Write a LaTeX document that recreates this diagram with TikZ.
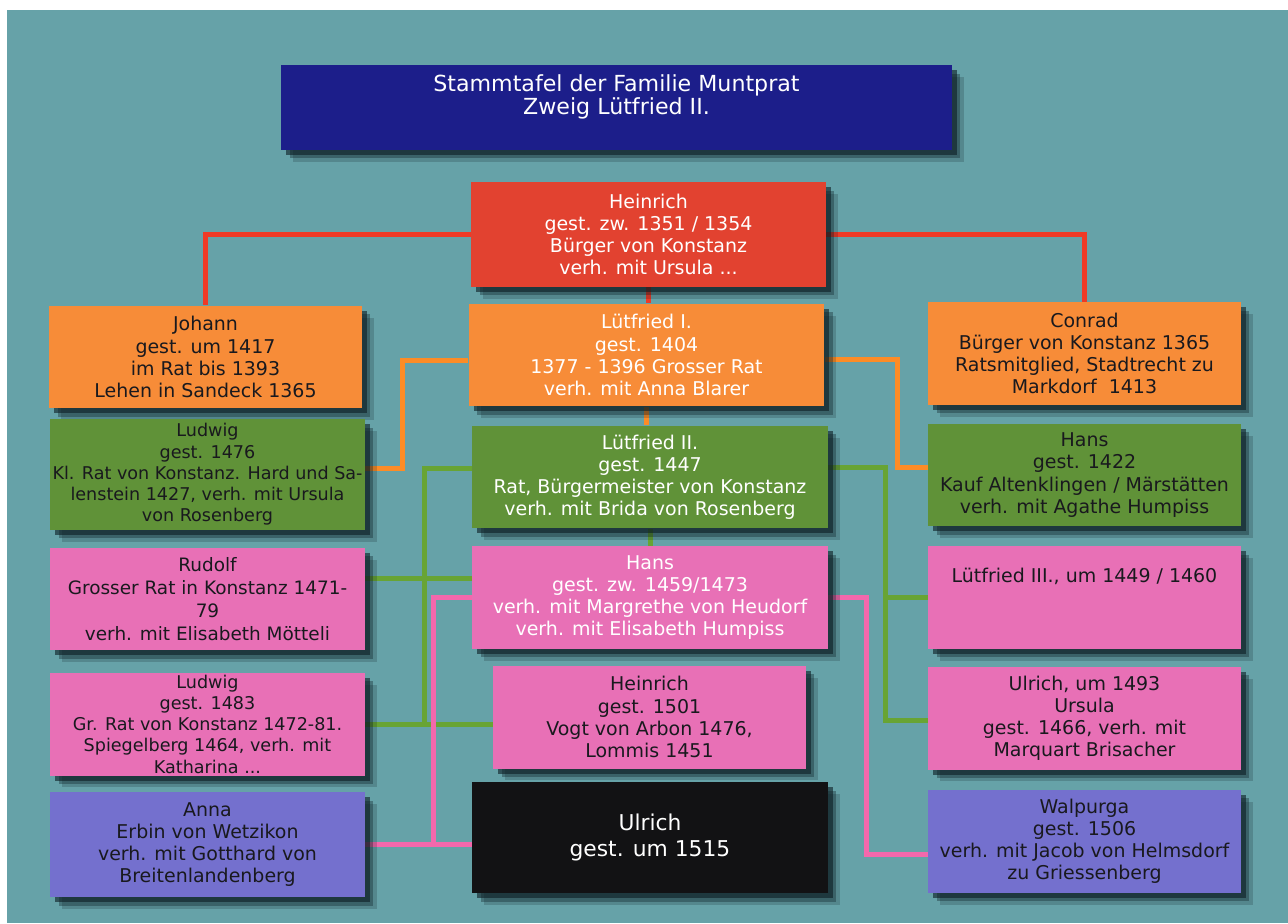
\documentclass[tikz,border=0pt]{standalone}
\usepackage{fontspec}
\setmainfont{DejaVu Sans}
\usetikzlibrary{shapes,shadows}
\pgfdeclarelayer{background}
\pgfsetlayers{background,main}
\definecolor{bgteal}{RGB}{102,162,168}
\definecolor{titleblue}{RGB}{28,30,138}
\definecolor{boxred}{RGB}{226,66,48}
\definecolor{boxorange}{RGB}{247,140,56}
\definecolor{boxgreen}{RGB}{96,146,56}
\definecolor{boxpink}{RGB}{232,112,182}
\definecolor{boxpurple}{RGB}{116,112,206}
\definecolor{boxblack}{RGB}{18,18,20}
\definecolor{textdark}{RGB}{25,25,30}
\definecolor{linered}{RGB}{238,58,38}
\definecolor{lineorange}{RGB}{252,140,38}
\definecolor{linegreen}{RGB}{104,164,52}
\definecolor{linepink}{RGB}{244,104,172}
\definecolor{shade}{RGB}{12,30,36}
\tikzstyle{person}=[rectangle,minimum width=6.26cm,minimum height=2.06cm,inner sep=1pt,align=center,text=textdark,font=\fontsize{10.8}{12.6}\selectfont,
    drop shadow={shadow xshift=0.1cm,shadow yshift=-0.1cm,opacity=0.6,fill=shade},
    drop shadow={shadow xshift=0.17cm,shadow yshift=-0.17cm,opacity=0.35,fill=shade},
    drop shadow={shadow xshift=0.24cm,shadow yshift=-0.24cm,opacity=0.2,fill=shade}]
\tikzstyle{core}=[person,minimum width=7.12cm,text=white]
\tikzstyle{edge}=[draw,line width=0.1cm]

\begin{document}
\begin{tikzpicture}[x=0.02cm,y=-0.02cm]
    \useasboundingbox (0,0) rectangle (1288,923);
    \begin{pgfonlayer}{background}
        \fill[bgteal] (7,10) rectangle (1288,923);
    \end{pgfonlayer}

    % First we draw the boxes, column by column
    \node[core,fill=titleblue,minimum width=13.42cm,minimum height=1.7cm,text depth=0.5cm,font=\fontsize{12.6}{13}\selectfont] (title) at (616.5,107.5) {Stammtafel der Familie Muntprat\\Zweig Lütfried II.};

    \node[core,fill=boxred,minimum width=7.1cm,minimum height=2.1cm] (heinrich) at (648.5,234.5) {Heinrich\\gest. zw. 1351 / 1354\\Bürger von Konstanz\\verh. mit Ursula ...};
    \node[core,fill=boxorange] (luetfried1) at (646.5,355) {Lütfried I.\\gest. 1404\\1377 - 1396 Grosser Rat\\verh. mit Anna Blarer};
    \node[core,fill=boxgreen] (luetfried2) at (650,477) {Lütfried II.\\gest. 1447\\Rat, Bürgermeister von Konstanz\\verh. mit Brida von Rosenberg};
    \node[core,fill=boxpink] (hans2) at (650,597.5) {Hans\\gest. zw. 1459/1473\\verh. mit Margrethe von Heudorf\\verh. mit Elisabeth Humpiss};
    \node[person,fill=boxpink] (heinrich2) at (649.5,717) {Heinrich\\gest. 1501\\Vogt von Arbon 1476,\\Lommis 1451};
    \node[core,fill=boxblack,minimum height=2.22cm,font=\fontsize{12.4}{15}\selectfont] (ulrich2) at (650,837.5) {Ulrich\\gest. um 1515};

    \node[person,fill=boxorange] (johann) at (205.5,357) {Johann\\gest. um 1417\\im Rat bis 1393\\Lehen in Sandeck 1365};
    \node[person,fill=boxgreen,minimum width=6.3cm,minimum height=2.22cm,font=\fontsize{10}{12.1}\selectfont] (ludwig1) at (207.5,474.5) {Ludwig\\gest. 1476\\Kl. Rat von Konstanz. Hard und Sa-\\lenstein 1427, verh. mit Ursula\\von Rosenberg};
    \node[person,fill=boxpink,minimum width=6.3cm,font=\fontsize{10.5}{13}\selectfont] (rudolf) at (207.5,599) {Rudolf\\Grosser Rat in Konstanz 1471-\\79\\verh. mit Elisabeth Mötteli};
    \node[person,fill=boxpink,minimum width=6.3cm,font=\fontsize{10}{12.1}\selectfont] (ludwig2) at (207.5,724) {Ludwig\\gest. 1483\\Gr. Rat von Konstanz 1472-81.\\Spiegelberg 1464, verh. mit\\Katharina ...};
    \node[person,fill=boxpurple,minimum width=6.3cm,minimum height=2.1cm] (anna) at (207.5,844.5) {Anna\\Erbin von Wetzikon\\verh. mit Gotthard von\\Breitenlandenberg};

    \node[person,fill=boxorange] (conrad) at (1084.5,353.5) {Conrad\\Bürger von Konstanz 1365\\Ratsmitglied, Stadtrecht zu\\Markdorf~~1413};
    \node[person,fill=boxgreen] (hans1) at (1084.5,475) {Hans\\gest. 1422\\Kauf Altenklingen / Märstätten\\verh. mit Agathe Humpiss};
    \node[person,fill=boxpink] (luetfried3) at (1084.5,597.5) {Lütfried III., um 1449 / 1460\\~\\~};
    \node[person,fill=boxpink] (ulrich1) at (1084.5,718) {Ulrich, um 1493\\Ursula\\gest. 1466, verh. mit\\Marquart Brisacher};
    \node[person,fill=boxpurple] (walpurga) at (1084.5,841) {Walpurga\\gest. 1506\\verh. mit Jacob von Helmsdorf\\zu Griessenberg};

    % Then the lines between parents and children
    \begin{pgfonlayer}{background}
    \foreach \source/\dest/\col in {heinrich/luetfried1/linered, luetfried1/luetfried2/lineorange, luetfried2/hans2/linegreen}
        \path[edge,draw=\col] (\source.south) -- (\source.south |- \dest.north);

    \path[edge,draw=linered] (heinrich.west) -| (johann.north);
    \path[edge,draw=linered] (heinrich.east) -| (conrad.north);

    \path[edge,draw=lineorange] ([yshift=-0.1cm]luetfried1.west) -- ++(-66,0) |- ([yshift=0.13cm]ludwig1.east);
    \path[edge,draw=lineorange] ([yshift=-0.08cm]luetfried1.east) -- ++(73,0) |- ([yshift=0.16cm]hans1.west);

    \path[edge,draw=linegreen] ([yshift=0.18cm]luetfried2.west) -- ++(-47,0) coordinate (gleft) |- (ludwig2.east);
    \path[edge,draw=linegreen] (gleft |- ludwig2.east) -- (heinrich2.west |- ludwig2.east);
    \path[edge,draw=linegreen] ([yshift=0.42cm]rudolf.east) -- ([yshift=0.42cm]rudolf.east -| hans2.west);
    \path[edge,draw=linegreen] ([yshift=0.2cm]luetfried2.east) -- ++(57,0) coordinate (gright) |- ([yshift=-0.04cm]ulrich1.west);
    \path[edge,draw=linegreen] (gright |- luetfried3.west) -- (luetfried3.west);

    \path[edge,draw=linepink] (hans2.west) -- ++(-38,0) |- (anna.east);
    \path[edge,draw=linepink] (anna.east) -- (anna.east -| ulrich2.west);
    \path[edge,draw=linepink] (hans2.east) -- ++(38,0) |- ([yshift=-0.26cm]walpurga.west);
    \end{pgfonlayer}
\end{tikzpicture}
\end{document}
